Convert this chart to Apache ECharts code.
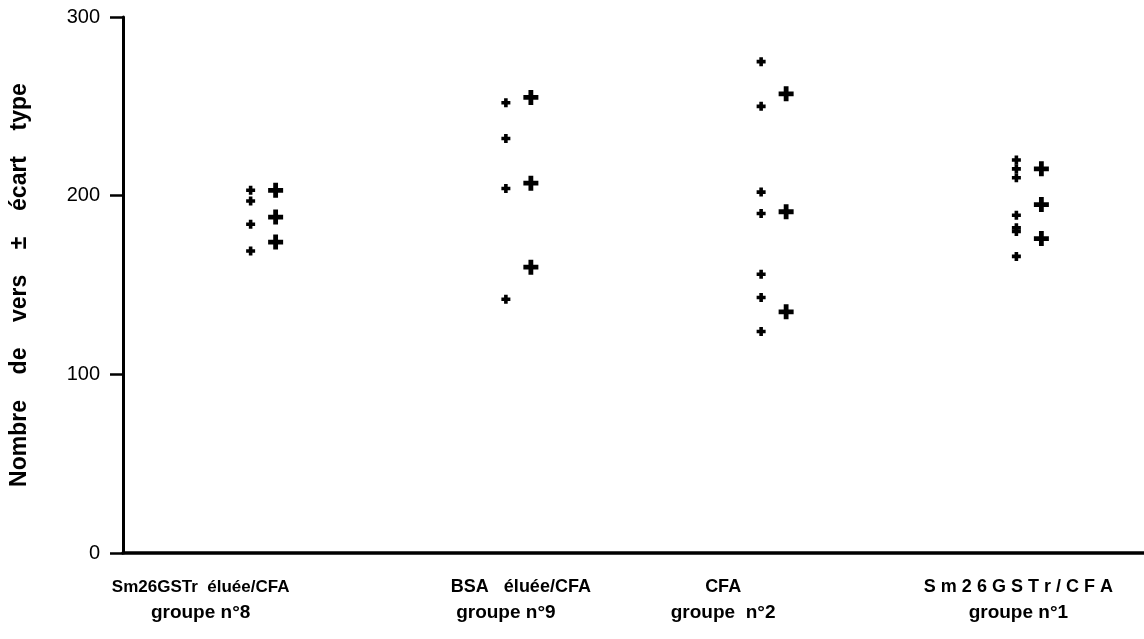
<!DOCTYPE html>
<html>
<head>
<meta charset="utf-8">
<script src="https://cdn.jsdelivr.net/npm/echarts@6/dist/echarts.min.js"></script>
<style>html,body{margin:0;padding:0;background:#fff;}#c{width:1144px;height:639px;}</style>
</head>
<body>
<div id="c"></div>
<script>
// ---- data ----
const categories = ['Sm26GSTr  éluée/CFA\ngroupe n°8', 'BSA   éluée/CFA\ngroupe n°9', 'CFA\ngroupe  n°2', 'S m 2 6 G S T r / C F A\ngroupe n°1'];
const yTicks = [0, 100, 200, 300];
// individual worm counts per group
const individualG8 = [203, 197, 184, 169];
const individualG9 = [252, 232, 204, 142];
const individualG2 = [275, 250, 202, 190, 156, 143, 124];
const individualG1 = [220, 215, 210, 189, 182, 180, 166];
// mean + sd, mean, mean - sd per group
const meanSdG8 = [203, 188, 174];
const meanSdG9 = [255, 207, 160];
const meanSdG2 = [257, 191, 135];
const meanSdG1 = [215, 195, 176];

const individuals = [individualG8, individualG9, individualG2, individualG1];
const meanSds = [meanSdG8, meanSdG9, meanSdG2, meanSdG1];

const dotData = [];
individuals.forEach((arr, i) => arr.forEach(v => dotData.push([i, v])));
const plusData = [];
meanSds.forEach((arr, i) => arr.forEach(v => plusData.push([i, v])));

// label horizontal shifts and sizes per line (layout only)
const labelShift = [[-50, -50], [15, 0], [-38, -38], [2, 2]];
const labelSize = [[17, 19], [18, 19], [18, 19], [18, 19]];
const rich = {};
labelShift.forEach((pair, i) => {
  pair.forEach((s, j) => {
    rich['s' + i + '_' + j] = {
      fontFamily: '"Liberation Sans", Arial, sans-serif',
      fontWeight: 'bold', fontSize: labelSize[i][j], color: '#000', lineHeight: 25,
      padding: s < 0 ? [0, -2 * s, 0, 0] : [0, 0, 0, 2 * s]
    };
  });
});

const dotPath = 'path://M3,0h4v3h3v4h-3v3h-4v-3h-3v-4h3z';
const plusPath = 'path://M3.4,0h3.2v3.4h3.4v3.2h-3.4v3.4h-3.2v-3.4h-3.4v-3.2h3.4z';

const chart = echarts.init(document.getElementById('c'), null, {renderer: 'canvas'});
chart.setOption({
  animation: false,
  backgroundColor: '#fff',
  grid: {left: 122, right: 0, top: 17, bottom: 86},
  xAxis: {
    type: 'category',
    data: categories,
    axisLine: {lineStyle: {color: '#000', width: 3.5}},
    axisTick: {show: false},
    axisLabel: {
      margin: 22,
      interval: 0,
      formatter: (val, idx) => val.split('\n').map((l, j) => '{s' + idx + '_' + j + '|' + l + '}').join('\n'),
      rich: rich
    },
    splitLine: {show: false}
  },
  yAxis: {
    type: 'value',
    min: 0, max: 300, interval: 100,
    name: 'Nombre    de    vers    ±    écart    type',
    nameLocation: 'middle',
    nameRotate: 90,
    nameGap: 92,
    nameTextStyle: {fontFamily: '"Liberation Sans", Arial, sans-serif', fontWeight: 'bold', fontSize: 23, color: '#000'},
    axisLine: {show: true, lineStyle: {color: '#000', width: 3}},
    axisTick: {show: true, inside: false, length: 13, lineStyle: {color: '#000', width: 2.5}},
    axisLabel: {
      margin: 23, color: '#000', fontSize: 20,
      fontFamily: '"Liberation Sans", Arial, sans-serif',
      formatter: v => yTicks.includes(v) ? String(v) : ''
    },
    splitLine: {show: false}
  },
  series: [
    {
      type: 'scatter',
      data: dotData,
      symbol: dotPath,
      symbolSize: 9,
      itemStyle: {color: '#000', opacity: 1}
    },
    {
      type: 'scatter',
      data: plusData,
      symbol: plusPath,
      symbolSize: 15,
      symbolOffset: [25, 0],
      itemStyle: {color: '#000', opacity: 1}
    }
  ]
});
</script>
</body>
</html>
